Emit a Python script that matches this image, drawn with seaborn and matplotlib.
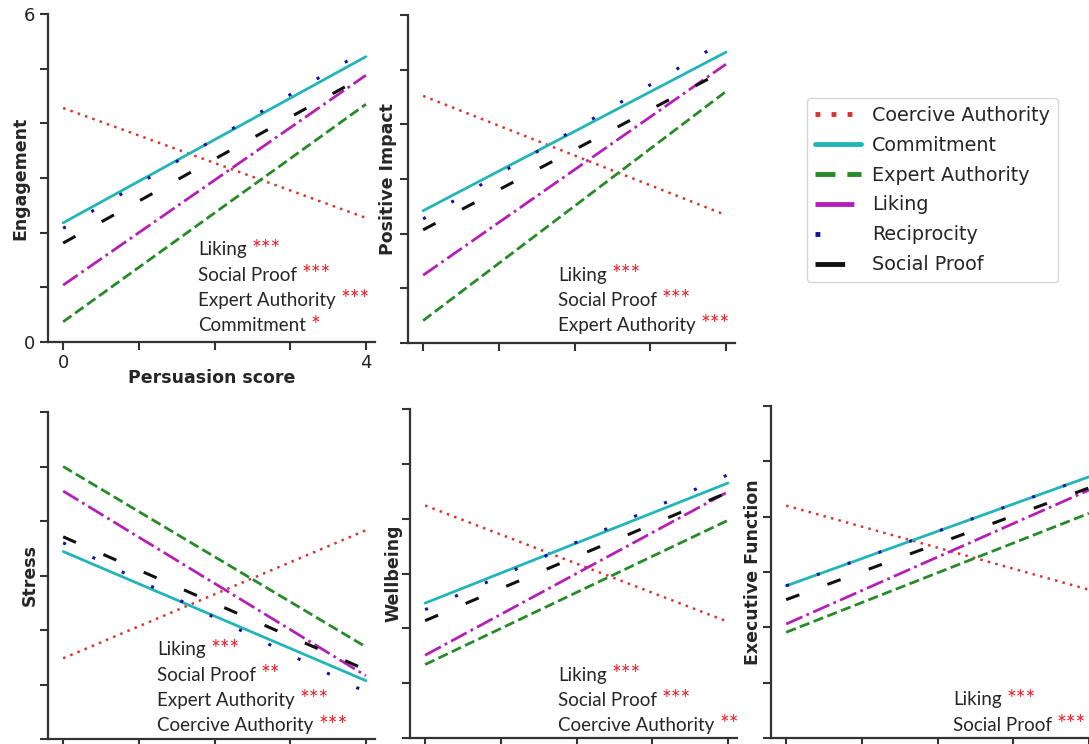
import matplotlib
matplotlib.use("Agg")
import matplotlib.pyplot as plt
from matplotlib.lines import Line2D
import pandas as pd
import seaborn as sns

# --- datos (valor de cada recta en persuasion = 0 y = 4) ---
principles = ["Coercive Authority", "Commitment", "Expert Authority",
              "Liking", "Reciprocity", "Social Proof"]
outcomes = ["Engagement", "Positive Impact", "Stress", "Wellbeing", "Executive Function"]
persuasion_x = [0, 4]

engagement_start = [4.28, 2.18, 0.37, 1.04, 2.08, 1.81]
engagement_end = [2.27, 5.22, 4.35, 4.88, 5.34, 4.88]
positive_start = [4.52, 2.42, 0.41, 1.24, 2.27, 2.07]
positive_end = [2.34, 5.32, 4.60, 5.10, 5.54, 5.00]
stress_start = [1.48, 3.44, 5.00, 4.55, 3.60, 3.71]
stress_end = [3.83, 1.07, 1.69, 1.16, 0.86, 1.27]
wellbeing_start = [4.24, 2.46, 1.34, 1.51, 2.34, 2.14]
wellbeing_end = [2.12, 4.65, 3.97, 4.49, 4.80, 4.48]
executive_start = [4.20, 2.75, 1.91, 2.06, 2.75, 2.50]
executive_end = [2.68, 4.72, 4.06, 4.48, 4.72, 4.52]

engagement_sig = [("Liking", "***"), ("Social Proof", "***"),
                  ("Expert Authority", "***"), ("Commitment", "*")]
positive_sig = [("Liking", "***"), ("Social Proof", "***"), ("Expert Authority", "***")]
stress_sig = [("Liking", "***"), ("Social Proof", "**"),
              ("Expert Authority", "***"), ("Coercive Authority", "***")]
wellbeing_sig = [("Liking", "***"), ("Social Proof", "***"), ("Coercive Authority", "**")]
executive_sig = [("Liking", "***"), ("Social Proof", "***")]

y_ticks = [0, 1, 2, 3, 4, 5, 6]
x_ticks = [0, 1, 2, 3, 4]

# --- estilos ---
palette = {"Coercive Authority": "#dc3330", "Commitment": "#22b5b8",
           "Expert Authority": "#268a26", "Liking": "#b61fb6",
           "Reciprocity": "#1414a0", "Social Proof": "#111111"}
dashes = {"Coercive Authority": (1, 2.1), "Commitment": "",
          "Expert Authority": (3.7, 1.6), "Liking": (6.4, 1.6, 1, 1.6),
          "Reciprocity": (1, 9.7), "Social Proof": (4.6, 9.8)}
widths = {"Coercive Authority": 1.8, "Commitment": 2.0, "Expert Authority": 2.0,
          "Liking": 2.0, "Reciprocity": 2.2, "Social Proof": 2.2}
legend_dashes = {"Coercive Authority": (1, 2.3), "Commitment": None,
                 "Expert Authority": (4.1, 2.45), "Liking": (8, 1.6),
                 "Reciprocity": (1, 20), "Social Proof": (6.1, 5)}

sns.set_style("ticks")
plt.rcParams["axes.edgecolor"] = "#333333"
plt.rcParams["axes.linewidth"] = 1.6
plt.rcParams["xtick.color"] = "#333333"
plt.rcParams["ytick.color"] = "#333333"
plt.rcParams["font.family"] = ["DejaVu Sans"]

W, H = 1089, 744
AX_W = 327
fig = plt.figure(figsize=(W / 100, H / 100), dpi=100)

# caja de cada panel en pixeles: izquierda, arriba, abajo, desplazamiento de la etiqueta y
panels = [
    ("Engagement", engagement_start, engagement_end, engagement_sig, (48, 14, 342, -28), (198, 250)),
    ("Positive Impact", positive_start, positive_end, positive_sig, (408, 15, 343, -20), (558, 275)),
    ("Stress", stress_start, stress_end, stress_sig, (48, 412, 739, -18), (157, 650)),
    ("Wellbeing", wellbeing_start, wellbeing_end, wellbeing_sig, (410, 409, 738, -17), (558, 675)),
    ("Executive Function", executive_start, executive_end, executive_sig, (771, 406, 738, -18), (953, 700)),
]

for i, (name, start, end, sig, box, txt_pos) in enumerate(panels):
    left, top, bottom, lab_off = box
    ax = fig.add_axes([left / W, 1 - bottom / H, AX_W / W, (bottom - top) / H])

    rows = []
    for p, s, e in zip(principles, start, end):
        rows.append({"persuasion": persuasion_x[0], "value": s, "principle": p})
        rows.append({"persuasion": persuasion_x[1], "value": e, "principle": p})
    df = pd.DataFrame(rows)

    sns.lineplot(data=df, x="persuasion", y="value", hue="principle", style="principle",
                 size="principle", hue_order=principles, style_order=principles,
                 size_order=principles, palette=palette, dashes=dashes, sizes=widths,
                 errorbar=None, legend=False, ax=ax)

    ax.set_xlim(-0.2, 4.12)
    ax.set_ylim(0, 6)
    ax.set_xticks(x_ticks)
    ax.set_yticks(y_ticks)
    if i == 0:
        ax.set_xticklabels(["0", "", "", "", "4"])
        ax.set_yticklabels(["0", "", "", "", "", "", "6"])
        ax.set_xlabel("Persuasion score", fontsize=12.5, fontweight="bold", va="center")
        ax.xaxis.set_label_coords(0.5, -36 / (bottom - top))
    else:
        ax.set_xticklabels([])
        ax.set_yticklabels([])
        ax.set_xlabel("")
    ax.tick_params(length=6, width=1.5, labelsize=13, pad=3, labelcolor="#222222")
    ax.set_ylabel(name, fontsize=12.5, fontweight="bold", va="center")
    ax.yaxis.set_label_coords(lab_off / AX_W, 0.5)
    sns.despine(ax=ax)

    # etiquetas de significancia
    tx, ty = txt_pos
    for j, (lab, stars) in enumerate(sig):
        t = ax.text(tx / W, 1 - (ty + 25.3 * j) / H, lab, transform=fig.transFigure,
                    fontsize=13.5, family="Lato", color="#262626", va="center", ha="left")
        ax.annotate(stars, xy=(1, 0.5), xycoords=t, xytext=(3.5, 0.5), textcoords="offset points",
                    fontsize=16.5, family="Lato", color="#e8202a", va="center", ha="left",
                    annotation_clip=False)

# leyenda
handles = []
for p in principles:
    h = Line2D([0], [0], color=palette[p], lw=3.5, label=p)
    if legend_dashes[p] is not None:
        h.set_dashes(legend_dashes[p])
    handles.append(h)
fig.legend(handles=handles, loc="upper left", bbox_to_anchor=(807 / W, 1 - 98 / H),
           bbox_transform=fig.transFigure, borderaxespad=0, fontsize=13.8,
           handlelength=2.4, handletextpad=0.6, labelspacing=0.57, borderpad=0.4,
           frameon=True, edgecolor="#cccccc", fancybox=True)

fig.savefig("out.png", dpi=100)
